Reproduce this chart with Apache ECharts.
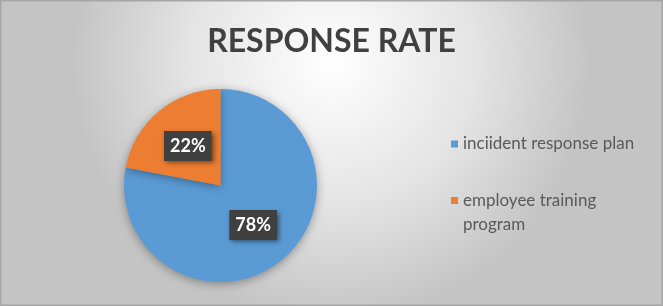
<!DOCTYPE html>
<html><head><meta charset="utf-8">
<script src="https://cdn.jsdelivr.net/npm/echarts@6/dist/echarts.min.js"></script>
<style>html,body{margin:0;padding:0;}#c{width:663px;height:306px;}</style>
</head><body><div id="c"></div>
<script>
const titleText = 'RESPONSE RATE';
const categories = ['inciident response plan', 'employee training program'];
const values = [78, 22];
const colors = ['#5B9BD5', '#ED7D31'];

const chart = echarts.init(document.getElementById('c'), null, {renderer: 'canvas'});
const fontFam = 'Lato, "Open Sans", sans-serif';
const legendText = {fontFamily: fontFam, fontSize: 17, color: '#595959', lineHeight: 24};
chart.setOption({
  backgroundColor: {
    type: 'radial', x: 0.5, y: 0.2, r: 0.85,
    colorStops: [{offset: 0, color: '#ffffff'}, {offset: 0.55, color: '#e4e4e4'}, {offset: 1, color: '#c4c4c4'}]
  },
  animation: false,
  title: {
    text: titleText, left: 'center', top: 21,
    textStyle: {fontFamily: fontFam, fontWeight: 'bold', fontSize: 32, color: '#404040'}
  },
  legend: [{
    orient: 'vertical', left: 451, top: 132, padding: 0,
    itemWidth: 7, itemHeight: 7, icon: 'rect',
    data: [categories[0]],
    textStyle: legendText
  }, {
    orient: 'vertical', left: 451, top: 164.5, padding: 0,
    itemWidth: 7, itemHeight: 7, icon: 'rect',
    data: [categories[1]],
    formatter: name => ' \n' + name,
    textStyle: Object.assign({}, legendText, {width: 160, overflow: 'break'})
  }],
  graphic: [{
    type: 'rect', silent: true,
    shape: {x: 0.5, y: 0.5, width: 662, height: 305},
    style: {fill: 'none', stroke: '#a6a6a6', lineWidth: 2}
  }],
  series: [{
    type: 'pie',
    center: [220.5, 185.5],
    radius: [0, 96.5],
    startAngle: 90,
    clockwise: true,
    data: categories.map((c, i) => ({name: c, value: values[i], itemStyle: {color: colors[i]}})),
    itemStyle: {shadowBlur: 10, shadowColor: 'rgba(0,0,0,0.35)', shadowOffsetY: 2},
    label: {
      show: true, position: 'inside',
      formatter: p => p.value + '%',
      fontFamily: fontFam, fontWeight: 'bold', fontSize: 18, color: '#ffffff',
      backgroundColor: '#404040', padding: [6, 6, 6, 6],
      shadowBlur: 5, shadowColor: 'rgba(0,0,0,0.5)', shadowOffsetX: 2, shadowOffsetY: 2
    },
    labelLine: {show: false},
    emphasis: {disabled: true}
  }]
});
</script></body></html>
